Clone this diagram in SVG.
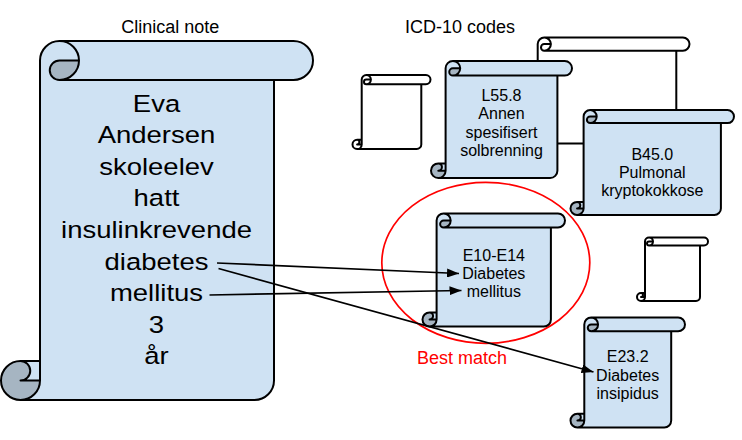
<svg xmlns="http://www.w3.org/2000/svg" width="742" height="440" viewBox="0 0 742 440">
<style>
.fill{fill:#cfe2f3}
.dark{fill:#a6b5c2}
.wfill{fill:#ffffff}
.out{fill:none;stroke:#000;stroke-width:2;stroke-linejoin:round}
text{font-family:"Liberation Sans",Arial,sans-serif;fill:#000;text-anchor:middle}
.big{font-size:23.5px}
.lbl{font-size:16px}
.title{font-size:18px}
.red{font-size:18px;fill:#ff0000}
.conn{fill:none;stroke:#000;stroke-width:1.7}
</style>
<defs>
<marker id="arr" viewBox="0 0 12 9" refX="12" refY="4.5" markerWidth="12" markerHeight="9" markerUnits="userSpaceOnUse" orient="auto">
<path d="M0,0 L12,4.5 L0,9 Z" fill="#000"/>
</marker>
</defs>
<rect width="742" height="440" fill="#fff"/>

<text class="title" x="170.3" y="32.5">Clinical note</text>
<text class="title" x="460" y="33">ICD-10 codes</text>

<g id="back-scroll">
<path class="wfill" d="M531.1,143.5 A6.6,6.6 0 0 0 537.7,136.9 L531.1,136.9 A3.3,3.3 0 0 0 531.1,130.3 L537.7,130.3 L537.7,44.1 A6.6,6.6 0 0 1 544.3,37.5 L682.9,37.5 A6.6,6.6 0 0 1 682.9,50.7 L676.3,50.7 L676.3,136.9 A6.6,6.6 0 0 1 669.7,143.5 Z"/>
<path class="out" d="M537.7,130.3 L537.7,44.1 A6.6,6.6 0 0 1 544.3,37.5 L682.9,37.5 A6.6,6.6 0 0 1 682.9,50.7 L676.3,50.7 L676.3,136.9 A6.6,6.6 0 0 1 669.7,143.5 L531.1,143.5 A6.6,6.6 0 0 1 531.1,130.3 Z M544.3,37.5 A6.6,6.6 0 0 1 544.3,50.7 A3.3,3.3 0 0 1 544.3,44.1 L550.9,44.1 M676.3,50.7 L544.3,50.7 M531.1,130.3 A3.3,3.3 0 0 1 531.1,136.9 L537.7,136.9 M531.1,143.5 A6.6,6.6 0 0 0 537.7,136.9 L537.7,130.3"/>
</g>

<g id="small-scroll-1">
<path class="wfill" d="M357.1,149 A4.6,4.6 0 0 0 361.7,144.4 L357.1,144.4 A2.3,2.3 0 0 0 357.1,139.8 L361.7,139.8 L361.7,79.6 A4.6,4.6 0 0 1 366.3,75 L425.9,75 A4.6,4.6 0 0 1 425.9,84.2 L421.3,84.2 L421.3,144.4 A4.6,4.6 0 0 1 416.7,149 Z"/>
<path class="out" d="M361.7,139.8 L361.7,79.6 A4.6,4.6 0 0 1 366.3,75 L425.9,75 A4.6,4.6 0 0 1 425.9,84.2 L421.3,84.2 L421.3,144.4 A4.6,4.6 0 0 1 416.7,149 L357.1,149 A4.6,4.6 0 0 1 357.1,139.8 Z M366.3,75 A4.6,4.6 0 0 1 366.3,84.2 A2.3,2.3 0 0 1 366.3,79.6 L370.9,79.6 M421.3,84.2 L366.3,84.2 M357.1,139.8 A2.3,2.3 0 0 1 357.1,144.4 L361.7,144.4 M357.1,149 A4.6,4.6 0 0 0 361.7,144.4 L361.7,139.8"/>
</g>

<g id="small-scroll-2">
<path class="wfill" d="M641,301 A4,4 0 0 0 645,297 L641,297 A2,2 0 0 0 641,293 L645,293 L645,241.5 A4,4 0 0 1 649,237.5 L704,237.5 A4,4 0 0 1 704,245.5 L700,245.5 L700,297 A4,4 0 0 1 696,301 Z"/>
<path class="out" d="M645,293 L645,241.5 A4,4 0 0 1 649,237.5 L704,237.5 A4,4 0 0 1 704,245.5 L700,245.5 L700,297 A4,4 0 0 1 696,301 L641,301 A4,4 0 0 1 641,293 Z M649,237.5 A4,4 0 0 1 649,245.5 A2,2 0 0 1 649,241.5 L653,241.5 M700,245.5 L649,245.5 M641,293 A2,2 0 0 1 641,297 L645,297 M641,301 A4,4 0 0 0 645,297 L645,293"/>
</g>

<g id="clinical-note">
<path class="fill" d="M20.5,400 A19.5,19.5 0 0 0 40,380.5 L20.5,380.5 A9.75,9.75 0 0 0 20.5,361 L40,361 L40,60.5 A19.5,19.5 0 0 1 59.5,41 L293.5,41 A19.5,19.5 0 0 1 293.5,80 L274,80 L274,380.5 A19.5,19.5 0 0 1 254.5,400 Z"/>
<path class="dark" d="M79,60.5 A19.5,19.5 0 0 1 59.5,80 A9.75,9.75 0 0 1 59.5,60.5 Z M40,380.5 A19.5,19.5 0 1 1 20.5,361 A9.75,9.75 0 0 1 20.5,380.5 Z"/>
<path class="out" d="M40,361 L40,60.5 A19.5,19.5 0 0 1 59.5,41 L293.5,41 A19.5,19.5 0 0 1 293.5,80 L274,80 L274,380.5 A19.5,19.5 0 0 1 254.5,400 L20.5,400 A19.5,19.5 0 0 1 20.5,361 Z M59.5,41 A19.5,19.5 0 0 1 59.5,80 A9.75,9.75 0 0 1 59.5,60.5 L79,60.5 M274,80 L59.5,80 M20.5,361 A9.75,9.75 0 0 1 20.5,380.5 L40,380.5 M20.5,400 A19.5,19.5 0 0 0 40,380.5 L40,361"/>
<g transform="translate(156.5,0) scale(1.17,1)">
<text class="big" x="0" y="111.7">Eva</text>
<text class="big" x="0" y="143.3">Andersen</text>
<text class="big" x="0" y="174.9">skoleelev</text>
<text class="big" x="0" y="206.5">hatt</text>
<text class="big" x="0" y="238.1">insulinkrevende</text>
<text class="big" x="0" y="269.7">diabetes</text>
<text class="big" x="0" y="301.3">mellitus</text>
<text class="big" x="0" y="332.9">3</text>
<text class="big" x="0" y="364.5">år</text>
</g>
</g>

<g id="L55-8">
<path class="fill" d="M438.3,178 A7.3,7.3 0 0 0 445.6,170.7 L438.3,170.7 A3.65,3.65 0 0 0 438.3,163.4 L445.6,163.4 L445.6,68.3 A7.3,7.3 0 0 1 452.9,61 L564.7,61 A7.3,7.3 0 0 1 564.7,75.6 L557.4,75.6 L557.4,170.7 A7.3,7.3 0 0 1 550.1,178 Z"/>
<path class="dark" d="M460.2,68.3 A7.3,7.3 0 0 1 452.9,75.6 A3.65,3.65 0 0 1 452.9,68.3 Z M445.6,170.7 A7.3,7.3 0 1 1 438.3,163.4 A3.65,3.65 0 0 1 438.3,170.7 Z"/>
<path class="out" d="M445.6,163.4 L445.6,68.3 A7.3,7.3 0 0 1 452.9,61 L564.7,61 A7.3,7.3 0 0 1 564.7,75.6 L557.4,75.6 L557.4,170.7 A7.3,7.3 0 0 1 550.1,178 L438.3,178 A7.3,7.3 0 0 1 438.3,163.4 Z M452.9,61 A7.3,7.3 0 0 1 452.9,75.6 A3.65,3.65 0 0 1 452.9,68.3 L460.2,68.3 M557.4,75.6 L452.9,75.6 M438.3,163.4 A3.65,3.65 0 0 1 438.3,170.7 L445.6,170.7 M438.3,178 A7.3,7.3 0 0 0 445.6,170.7 L445.6,163.4"/>
<text class="lbl" x="501.5" y="101">L55.8</text>
<text class="lbl" x="501.5" y="119.3">Annen</text>
<text class="lbl" x="501.5" y="137.7">spesifisert</text>
<text class="lbl" x="501.5" y="156">solbrenning</text>
</g>

<g id="B45-0">
<path class="fill" d="M577.05,215 A6.55,6.55 0 0 0 583.6,208.45 L577.05,208.45 A3.275,3.275 0 0 0 577.05,201.9 L583.6,201.9 L583.6,116.55 A6.55,6.55 0 0 1 590.15,110 L727.45,110 A6.55,6.55 0 0 1 727.45,123.1 L720.9,123.1 L720.9,208.45 A6.55,6.55 0 0 1 714.35,215 Z"/>
<path class="dark" d="M596.7,116.55 A6.55,6.55 0 0 1 590.15,123.1 A3.275,3.275 0 0 1 590.15,116.55 Z M583.6,208.45 A6.55,6.55 0 1 1 577.05,201.9 A3.275,3.275 0 0 1 577.05,208.45 Z"/>
<path class="out" d="M583.6,201.9 L583.6,116.55 A6.55,6.55 0 0 1 590.15,110 L727.45,110 A6.55,6.55 0 0 1 727.45,123.1 L720.9,123.1 L720.9,208.45 A6.55,6.55 0 0 1 714.35,215 L577.05,215 A6.55,6.55 0 0 1 577.05,201.9 Z M590.15,110 A6.55,6.55 0 0 1 590.15,123.1 A3.275,3.275 0 0 1 590.15,116.55 L596.7,116.55 M720.9,123.1 L590.15,123.1 M577.05,201.9 A3.275,3.275 0 0 1 577.05,208.45 L583.6,208.45 M577.05,215 A6.55,6.55 0 0 0 583.6,208.45 L583.6,201.9"/>
<text class="lbl" x="652.3" y="160">B45.0</text>
<text class="lbl" x="652.3" y="178.3">Pulmonal</text>
<text class="lbl" x="652.3" y="196.3">kryptokokkose</text>
</g>

<g id="best-match">
<ellipse cx="485.8" cy="262.8" rx="104" ry="80.5" fill="none" stroke="#ff0000" stroke-width="1.7"/>
<text class="red" x="462" y="364">Best match</text>
</g>

<g id="E10-E14">
<path class="fill" d="M429.55,326.5 A7.05,7.05 0 0 0 436.6,319.45 L429.55,319.45 A3.525,3.525 0 0 0 429.55,312.4 L436.6,312.4 L436.6,220.55 A7.05,7.05 0 0 1 443.65,213.5 L557.95,213.5 A7.05,7.05 0 0 1 557.95,227.6 L550.9,227.6 L550.9,319.45 A7.05,7.05 0 0 1 543.85,326.5 Z"/>
<path class="dark" d="M450.7,220.55 A7.05,7.05 0 0 1 443.65,227.6 A3.525,3.525 0 0 1 443.65,220.55 Z M436.6,319.45 A7.05,7.05 0 1 1 429.55,312.4 A3.525,3.525 0 0 1 429.55,319.45 Z"/>
<path class="out" d="M436.6,312.4 L436.6,220.55 A7.05,7.05 0 0 1 443.65,213.5 L557.95,213.5 A7.05,7.05 0 0 1 557.95,227.6 L550.9,227.6 L550.9,319.45 A7.05,7.05 0 0 1 543.85,326.5 L429.55,326.5 A7.05,7.05 0 0 1 429.55,312.4 Z M443.65,213.5 A7.05,7.05 0 0 1 443.65,227.6 A3.525,3.525 0 0 1 443.65,220.55 L450.7,220.55 M550.9,227.6 L443.65,227.6 M429.55,312.4 A3.525,3.525 0 0 1 429.55,319.45 L436.6,319.45 M429.55,326.5 A7.05,7.05 0 0 0 436.6,319.45 L436.6,312.4"/>
<text class="lbl" x="493.8" y="260.7">E10-E14</text>
<text class="lbl" x="493.8" y="279">Diabetes</text>
<text class="lbl" x="493.8" y="297">mellitus</text>
</g>

<g id="E23-2">
<path class="fill" d="M577.4,427.5 A6.9,6.9 0 0 0 584.3,420.6 L577.4,420.6 A3.45,3.45 0 0 0 577.4,413.7 L584.3,413.7 L584.3,324.4 A6.9,6.9 0 0 1 591.2,317.5 L678.1,317.5 A6.9,6.9 0 0 1 678.1,331.3 L671.2,331.3 L671.2,420.6 A6.9,6.9 0 0 1 664.3,427.5 Z"/>
<path class="dark" d="M598.1,324.4 A6.9,6.9 0 0 1 591.2,331.3 A3.45,3.45 0 0 1 591.2,324.4 Z M584.3,420.6 A6.9,6.9 0 1 1 577.4,413.7 A3.45,3.45 0 0 1 577.4,420.6 Z"/>
<path class="out" d="M584.3,413.7 L584.3,324.4 A6.9,6.9 0 0 1 591.2,317.5 L678.1,317.5 A6.9,6.9 0 0 1 678.1,331.3 L671.2,331.3 L671.2,420.6 A6.9,6.9 0 0 1 664.3,427.5 L577.4,427.5 A6.9,6.9 0 0 1 577.4,413.7 Z M591.2,317.5 A6.9,6.9 0 0 1 591.2,331.3 A3.45,3.45 0 0 1 591.2,324.4 L598.1,324.4 M671.2,331.3 L591.2,331.3 M577.4,413.7 A3.45,3.45 0 0 1 577.4,420.6 L584.3,420.6 M577.4,427.5 A6.9,6.9 0 0 0 584.3,420.6 L584.3,413.7"/>
<text class="lbl" x="627.7" y="362.3">E23.2</text>
<text class="lbl" x="627.7" y="380.7">Diabetes</text>
<text class="lbl" x="627.7" y="398.5">insipidus</text>
</g>

<g id="connectors">
<path class="conn" d="M217,263 L459,273.5" marker-end="url(#arr)"/>
<path class="conn" d="M209.5,295 L461.5,290.5" marker-end="url(#arr)"/>
<path class="conn" d="M218.5,268.5 L593.5,372" marker-end="url(#arr)"/>
</g>
</svg>
